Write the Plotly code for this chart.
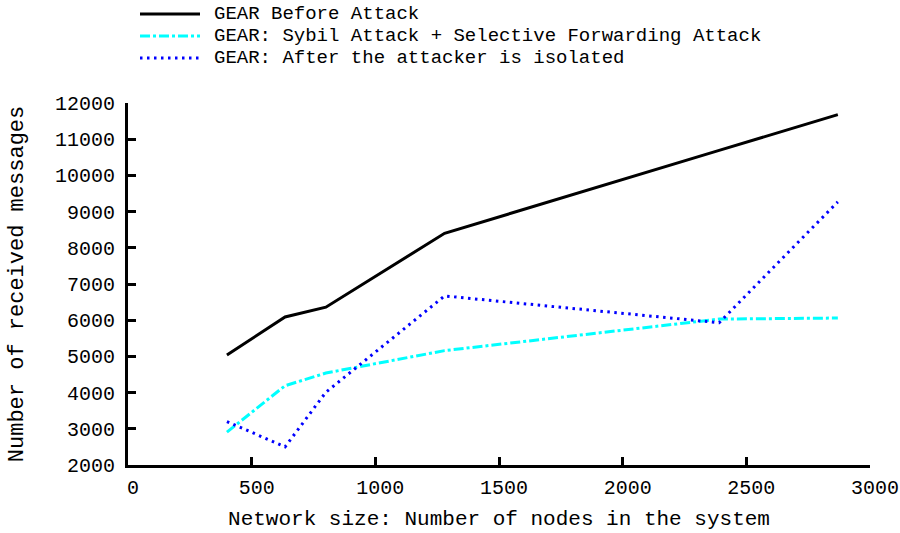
import plotly.graph_objects as go

# ---- data ----
nodes = [400, 635, 800, 1280, 2390, 2870]
before_attack = [5040, 6090, 6360, 8400, 10690, 11680]
sybil_sf_attack = [2910, 4190, 4540, 5160, 6030, 6060]
after_isolation = [3200, 2500, 4010, 6670, 5930, 9270]
series_names = [
    "GEAR Before Attack",
    "GEAR: Sybil Attack + Selective Forwarding Attack",
    "GEAR: After the attacker is isolated",
]
x_ticks = [0, 500, 1000, 1500, 2000, 2500, 3000]
y_ticks = [2000, 3000, 4000, 5000, 6000, 7000, 8000, 9000, 10000, 11000, 12000]

FONT = "Liberation Mono, Courier New, monospace"
W, H = 900, 533
ML, MR, MT, MB = 128, 30, 103, 68
PW, PH = W - ML - MR, H - MT - MB

styles = [
    dict(color="#000000", width=3, dash="solid"),
    dict(color="#00FFFF", width=3, dash="10px,3px,3px,3px"),
    dict(color="#0000FF", width=3, dash="2.5px,4.5px"),
]
values = [before_attack, sybil_sf_attack, after_isolation]

fig = go.Figure()
for name, ys, st in zip(series_names, values, styles):
    fig.add_trace(go.Scatter(x=nodes, y=ys, mode="lines", name=name,
                             line=st, showlegend=False))

# custom legend (long line samples like the original)
shapes, annos = [], []
for i, (name, st) in enumerate(zip(series_names, styles)):
    py = 14 + 22 * i
    yp = (H - MB - py) / PH
    shapes.append(dict(type="line", xref="paper", yref="paper",
                       x0=(140 - ML) / PW, x1=(200 - ML) / PW, y0=yp, y1=yp,
                       line=st))
    annos.append(dict(xref="paper", yref="paper", x=(212 - ML) / PW, y=yp,
                      xanchor="left", yanchor="middle", showarrow=False,
                      text=name, font=dict(family=FONT, size=19, color="#000")))

axis_common = dict(showline=True, linewidth=3, linecolor="#000", mirror=False,
                   ticks="inside", ticklen=8, tickwidth=3, tickcolor="#000",
                   showgrid=False, zeroline=False, automargin=False,
                   ticklabeloverflow="allow",
                   tickfont=dict(family=FONT, size=20, color="#000"))

fig.update_layout(
    width=W, height=H,
    margin=dict(l=ML, r=MR, t=MT, b=MB, pad=0),
    paper_bgcolor="white", plot_bgcolor="white",
    font=dict(family=FONT, size=20, color="#000"),
    shapes=shapes, annotations=annos,
    xaxis=dict(range=[0, 3000], tickvals=x_ticks,
               ticktext=[str(v) for v in x_ticks],
               ticklabelstandoff=2, ticklabelshift=5,
               title=dict(text="Network size: Number of nodes in the system",
                          font=dict(family=FONT, size=21), standoff=12),
               **axis_common),
    yaxis=dict(range=[2000, 12000], tickvals=y_ticks,
               ticktext=[str(v) for v in y_ticks], ticklabelstandoff=6,
               title=dict(text="Number of received messages",
                          font=dict(family=FONT, size=22), standoff=26),
               **axis_common),
)

fig.write_html("out.html")
